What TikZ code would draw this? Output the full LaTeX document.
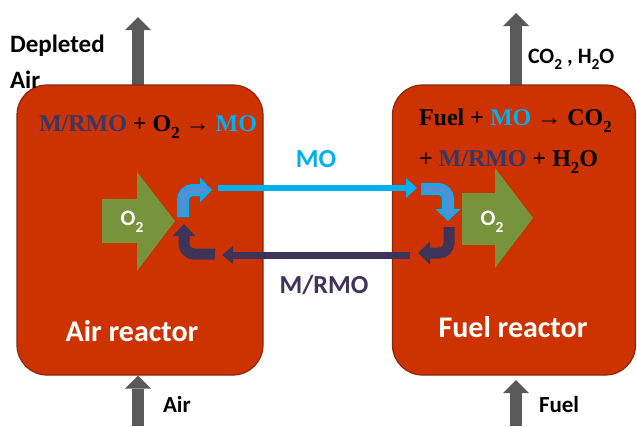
\documentclass[tikz,border=0pt]{standalone}
\usepackage{graphicx}
\usepackage{fontspec}
\setmainfont{Carlito}
\newfontfamily\eqfont{Liberation Serif}
\usetikzlibrary{arrows.meta}
\definecolor{boxfill}{RGB}{204,51,0}
\definecolor{boxedge}{RGB}{140,40,12}
\definecolor{arrgray}{RGB}{89,89,89}
\definecolor{oxgreen}{RGB}{119,147,60}
\definecolor{mocyan}{RGB}{0,176,240}
\definecolor{moblue}{RGB}{85,142,213}
\definecolor{rmodark}{RGB}{62,51,88}
\definecolor{eqnavy}{RGB}{55,55,105}
\newcommand{\msub}[1]{\raisebox{-0.3em}{\scalebox{0.7}{#1}}}
\newcommand{\fs}[1]{\fontsize{#1}{#1}\selectfont}
\begin{document}
\begin{tikzpicture}[x=1pt,y=-1pt,
  reactor/.style={draw=boxedge, line width=1.2pt, fill=boxfill, rounded corners=30pt, minimum width=246pt, minimum height=290pt, inner sep=0pt},
  grayarr/.style={draw=arrgray, line width=12pt, -{Triangle[length=13pt,width=26pt,line width=0pt]}},
  greenarr/.style={fill=oxgreen},
  moline/.style={draw=mocyan, line width=6pt, -{Triangle[length=11pt,width=20pt,line width=0pt]}},
  rmoline/.style={draw=rmodark, line width=7pt, -{Triangle[length=11pt,width=18pt,line width=0pt]}},
  bentout/.style={draw=mocyan, line width=12pt, rounded corners=10pt, -{Triangle[length=12pt,width=25pt,line width=0pt]}},
  bentin/.style={draw=moblue, line width=7pt, rounded corners=8pt, shorten <=2.5pt, shorten >=3.6pt, -{Triangle[length=7pt,width=14pt,line width=0pt]}},
  bentdark/.style={draw=rmodark, line width=11pt, rounded corners=10pt, -{Triangle[length=12pt,width=23pt,line width=0pt]}},
  txt/.style={inner sep=0pt, outer sep=0pt},
  sidelbl/.style={txt, font=\fs{25}\bfseries, text=black},
  reactlbl/.style={txt, font=\fs{30}\bfseries, text=white},
  oxlbl/.style={txt, font=\fs{22}\bfseries, text=white},
  eqlbl/.style={txt, font=\eqfont\fs{24}\bfseries, text=black}
]
\useasboundingbox (0,0) rectangle (637,426);
\fill[white] (0,0) rectangle (637,426);

% gray flow arrows
\coordinate (deplout) at (138,17);
\coordinate (airin) at (138,426);
\coordinate (flueout) at (516,13);
\coordinate (fuelin) at (516,426);
\coordinate (fueltip) at (516,380);
\draw[grayarr] (138,100) -- (deplout);
\draw[grayarr] (516,100) -- (flueout);

% reactors
\node[reactor] (air) at (140,230) {};
\node[reactor, minimum width=243pt] (fuel) at (514,230) {};

\draw[grayarr] (airin) -- (airin |- air.south);
\draw[grayarr] (fuelin) -- (fueltip);

% green O2 arrows
\path[greenarr] (102,199) -- (137,199) -- (137,172) -- (175,221) -- (137,271) -- (137,243) -- (102,243) -- cycle;
\path[greenarr] (462,193) -- (495,193) -- (495,168) -- (533,218) -- (495,268) -- (495,245) -- (462,245) -- cycle;
\node[oxlbl] (ox1) at (132,222) {O\msub{2}};
\node[oxlbl] (ox2) at (492,222) {O\msub{2}};

% transfer connectors
\coordinate (mo1) at (218,188);
\coordinate (mo2) at (417,188);
\coordinate (rm1) at (410,255);
\coordinate (rm2) at (222,255);
\draw[moline] (mo1) -- (mo2);
\draw[rmoline] (rm1) -- (rm2);

% bent arrows
\coordinate (la1) at (183,217); \coordinate (la2) at (183,190); \coordinate (la3) at (212,190);
\draw[bentout] (la1) -- (la2) -- (la3);
\draw[bentin] (la1) -- (la2) -- (la3);
\coordinate (ra1) at (421,189); \coordinate (ra2) at (448,189); \coordinate (ra3) at (448,221);
\draw[bentout] (ra1) -- (ra2) -- (ra3);
\draw[bentin] (ra1) -- (ra2) -- (ra3);
\coordinate (lb1) at (215,254); \coordinate (lb2) at (184,254); \coordinate (lb3) at (184,224);
\draw[bentdark] (lb1) -- (lb2) -- (lb3);
\coordinate (rb1) at (449,227); \coordinate (rb2) at (449,253); \coordinate (rb3) at (418,253);
\draw[bentdark] (rb1) -- (rb2) -- (rb3);

% labels
\node[sidelbl, anchor=base west] (depl) at (10,52) {Depleted};
\node[sidelbl, anchor=base west] (deplair) at (10,88) {Air};
\node[sidelbl, font=\fs{22}\bfseries, anchor=base west] (flue) at (528,63) {CO\msub{2} , H\msub{2}O};
\node[sidelbl, font=\fs{23}\bfseries, anchor=base west] (airlbl) at (163,412) {Air};
\node[sidelbl, font=\fs{23}\bfseries, anchor=base west] (fuellbl) at (539,412) {Fuel};

\node[reactlbl, anchor=base] (airname) at (132,341) {Air reactor};
\node[reactlbl, anchor=base] (fuelname) at (513,337) {Fuel reactor};

\node[txt, font=\fs{26}\bfseries, text=mocyan, anchor=base] (molbl) at (316,167) {MO};
\node[txt, font=\fs{26}\bfseries, text=rmodark, anchor=base] (rmolbl) at (324,293) {M/RMO};

\node[eqlbl, anchor=base west] (eq1) at (39,131) {\textcolor{eqnavy}{M/RMO} + O\msub{2} → \textcolor{mocyan}{MO}};
\node[eqlbl, anchor=base west] (eq2) at (419,125) {Fuel + \textcolor{mocyan}{MO} → CO\msub{2}};
\node[eqlbl, anchor=base west] (eq3) at (419,166) {+ \textcolor{eqnavy}{M/RMO} + H\msub{2}O};
\end{tikzpicture}
\end{document}
